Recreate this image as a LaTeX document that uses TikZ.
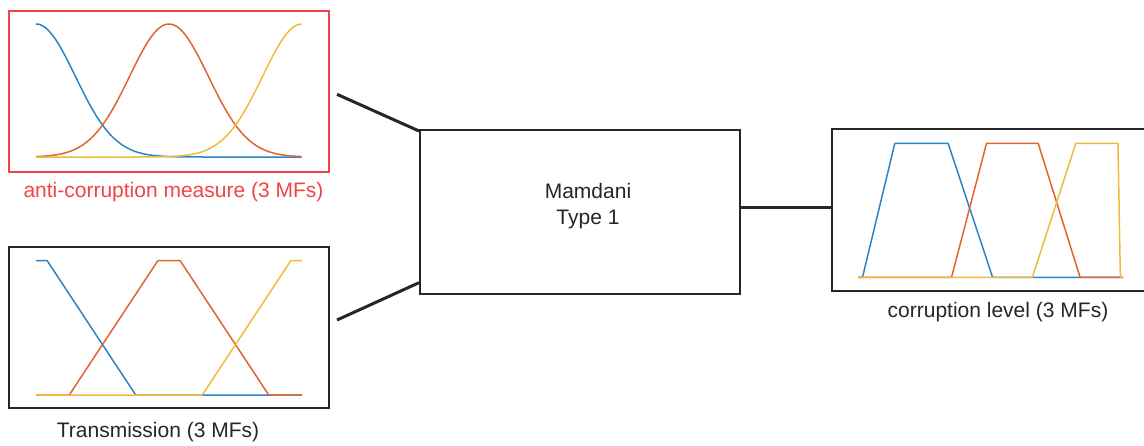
\documentclass[tikz,border=0pt]{standalone}
\usepackage{fontspec}
\setmainfont{Liberation Sans}
\definecolor{mblue}{HTML}{2A84CA}
\definecolor{morange}{HTML}{DE6532}
\definecolor{myellow}{HTML}{F0BC38}
\definecolor{mred}{HTML}{F24444}
\definecolor{ink}{HTML}{262626}
\tikzset{
  panel/.style={draw=ink, line width=2pt, inner sep=0pt, fill=none},
  redpanel/.style={draw=mred, line width=2pt, inner sep=0pt},
  conn/.style={draw=ink, line width=3pt},
  mf/.style={line width=1.5pt, line join=round},
  lab/.style={text=ink, inner sep=0pt, font=\fontsize{21}{25}\selectfont},
}
\begin{document}
\begin{tikzpicture}[x=1pt, y=1pt]
\useasboundingbox (0,0) rectangle (1144,-445);
\clip (0,0) rectangle (1144,-445);

% boxes
\node[redpanel, minimum width=320pt, minimum height=161pt] (in1) at (168.5,-91.5) {};
\node[panel, minimum width=320.5pt, minimum height=161pt] (in2) at (168.75,-327.5) {};
\node[panel, minimum width=319.5pt, minimum height=164pt] (mam) at (579.75,-212) {};
\node[panel, minimum width=340pt, minimum height=162pt, anchor=west] (out) at (831,-210.4) {};

% labels
\node[lab, text=mred] (l1) at (173.5,-192) {anti-corruption measure (3 MFs)};
\node[lab] (l2) at (158,-431.7) {Transmission (3 MFs)};
\node[lab] (l3) at (998,-311.7) {corruption level (3 MFs)};
\node[lab, align=center, font=\fontsize{21}{26.6}\selectfont] (mt) at (588,-206) {Mamdani\\Type 1};

% connectors
\coordinate (c1) at (337,-94.3);
\coordinate (c2) at (337,-320);
\draw[conn] (c1) -- ([yshift=-2pt]mam.north west);
\draw[conn] (c2) -- ([yshift=12.3pt]mam.south west);
\draw[conn] ([yshift=4.7pt]mam.east) coordinate (r1) -- (r1 -| out.west);

% gaussian MFs
\begin{scope}[shift={(36,-157)}, xscale=266, yscale=133]
  \draw[mf, mblue, domain=0:1, samples=120] plot (\x, {exp(-(\x)*(\x)/0.0438)});
  \draw[mf, morange, domain=0:1, samples=120] plot (\x, {exp(-(\x-0.5)*(\x-0.5)/0.0438)});
  \draw[mf, myellow, domain=0:1, samples=120] plot (\x, {exp(-(\x-1)*(\x-1)/0.0438)});
\end{scope}

% trapezoid MFs (Transmission)
\begin{scope}[shift={(36,-395)}, xscale=266, yscale=134.3]
  \draw[mf, mblue] (0,1) -- (0.042,1) -- (0.375,0) -- (1,0);
  \draw[mf, morange] (0,0) -- (0.125,0) -- (0.458,1) -- (0.542,1) -- (0.875,0) -- (1,0);
  \draw[mf, myellow] (0,0) -- (0.625,0) -- (0.958,1) -- (1,1);
\end{scope}

% trapezoid MFs (corruption level)
\begin{scope}[shift={(858,-277.3)}, xscale=265, yscale=134]
  \draw[mf, mblue] (0,0) -- (0.017,0) -- (0.139,1) -- (0.340,1) -- (0.508,0) -- (1,0);
  \draw[mf, morange] (0,0) -- (0.353,0) -- (0.485,1) -- (0.680,1) -- (0.838,0) -- (1,0);
  \draw[mf, myellow] (0,0) -- (0.658,0) -- (0.822,1) -- (0.981,1) -- (0.990,0) -- (1,0);
\end{scope}
\end{tikzpicture}
\end{document}
